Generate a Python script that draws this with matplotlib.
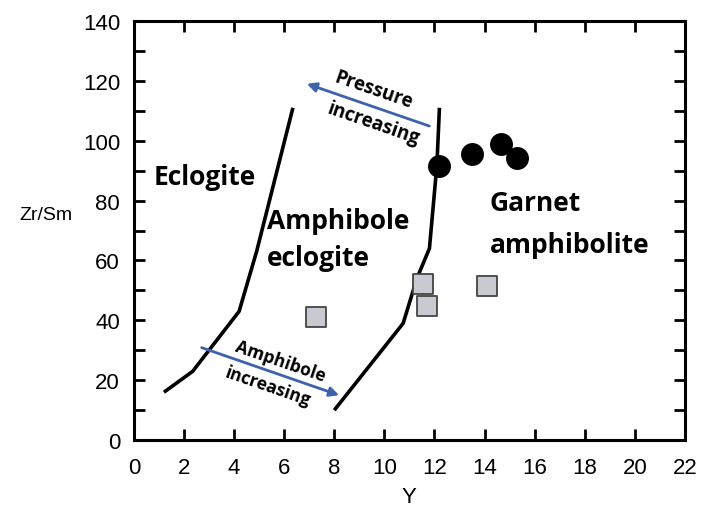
import numpy as np
import matplotlib
matplotlib.use("Agg")
import matplotlib.pyplot as plt

# boundary curves
ecl_x = [1.2, 2.35, 4.2, 4.9, 6.35]
ecl_y = [16, 23, 43, 63, 111]
amph_x = [8.0, 10.75, 11.3, 11.8, 12.1, 12.2]
amph_y = [10, 39, 54, 64, 92, 111]

# samples
circle_x = [12.2, 13.5, 14.65, 15.3]
circle_y = [91.5, 95.5, 99, 94.2]
square_x = [7.27, 11.55, 11.7, 14.1]
square_y = [41, 52, 44.8, 51.5]

plt.rcParams['font.family'] = ['Liberation Sans Narrow', 'Liberation Sans', 'DejaVu Sans']
lab = ['Open Sans', 'DejaVu Sans']

fig = plt.figure(figsize=(7.01, 5.10), dpi=100)
ax = fig.add_axes([0.191, 0.135, 0.786, 0.822])

ax.plot(ecl_x, ecl_y, color='k', lw=2.6, solid_capstyle='butt')
ax.plot(amph_x, amph_y, color='k', lw=2.6, solid_capstyle='butt')

ax.scatter(square_x, square_y, marker='s', s=210, facecolor='#c9c9d1',
           edgecolor='#444444', linewidth=1.3, zorder=3)
ax.scatter(circle_x, circle_y, marker='o', s=240, color='k', zorder=3)

blue = '#3f62ad'
ax.annotate('', xy=(6.8, 119.3), xytext=(11.9, 104.6),
            arrowprops=dict(arrowstyle='-|>', color=blue, lw=2, mutation_scale=14))
ax.annotate('', xy=(8.3, 14.7), xytext=(2.6, 31.2),
            arrowprops=dict(arrowstyle='-|>', color=blue, lw=2, mutation_scale=14))

ax.text(9.55, 117.0, 'Pressure', rotation=-19, ha='center', va='center',
        fontsize=13.5, fontweight='bold', family=lab)
ax.text(9.55, 106.0, 'increasing', rotation=-19, ha='center', va='center',
        fontsize=13.5, fontweight='bold', family=lab)
ax.text(5.85, 26.6, 'Amphibole', rotation=-19, ha='center', va='center',
        fontsize=12.5, fontweight='bold', family=lab)
ax.text(5.35, 18.0, 'increasing', rotation=-19, ha='center', va='center',
        fontsize=12.5, fontweight='bold', family=lab)

big = 19
ax.text(0.8, 88, 'Eclogite', ha='left', va='center', fontsize=big,
        fontweight='bold', family=lab)
ax.text(5.3, 73.5, 'Amphibole', ha='left', va='center', fontsize=big,
        fontweight='bold', family=lab)
ax.text(5.3, 61, 'eclogite', ha='left', va='center', fontsize=big,
        fontweight='bold', family=lab)
ax.text(14.2, 79.5, 'Garnet', ha='left', va='center', fontsize=big,
        fontweight='bold', family=lab)
ax.text(14.2, 65.5, 'amphibolite', ha='left', va='center', fontsize=big,
        fontweight='bold', family=lab)

ax.set_xlim(0, 22)
ax.set_ylim(0, 140)
ax.set_xticks(np.arange(0, 23, 2))
ax.set_yticks(np.arange(0, 141, 20))
ax.set_yticks(np.arange(10, 140, 20), minor=True)
ax.tick_params(axis='both', which='both', direction='in', top=True, right=True,
               width=2, labelsize=16)
ax.tick_params(which='major', length=8)
ax.tick_params(which='minor', length=8)
ax.tick_params(axis='x', pad=12)
ax.tick_params(axis='y', pad=10)
for s in ax.spines.values():
    s.set_linewidth(2.2)

ax.set_xlabel('Y', fontsize=16, labelpad=6)
fig.text(0.065, 0.578, 'Zr/Sm', fontsize=14, ha='center', va='center')

fig.savefig('out.png', dpi=100)
